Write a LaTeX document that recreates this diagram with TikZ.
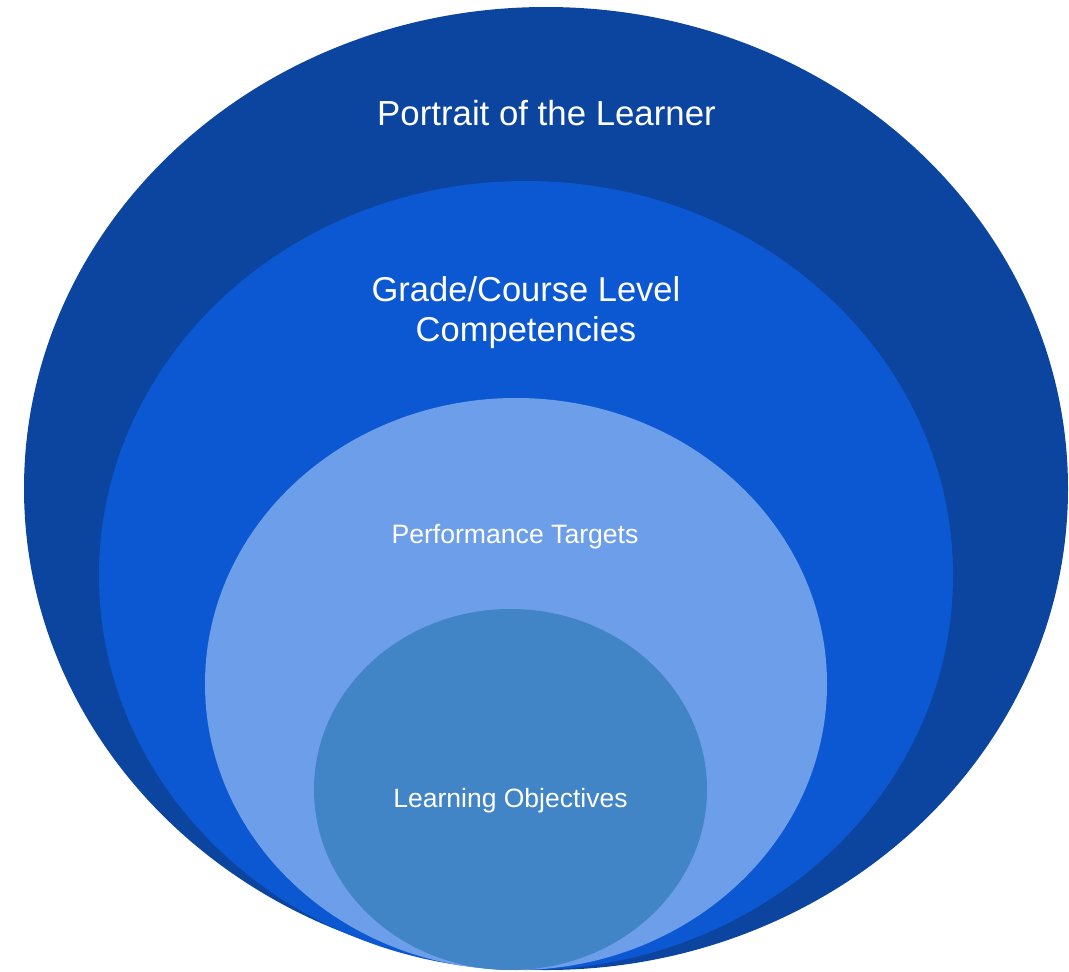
\documentclass[tikz,border=0pt]{standalone}
\usepackage{fontspec}
\setmainfont{Liberation Sans}
\definecolor{cOuter}{HTML}{0B45A0}
\definecolor{cSecond}{HTML}{0C58D2}
\definecolor{cThird}{HTML}{6D9EE9}
\definecolor{cInner}{HTML}{4285C6}
\begin{document}
\begin{tikzpicture}[x=1pt,y=-1pt,
  lbl/.style={text=white,anchor=base,inner sep=0pt,align=center}]
\useasboundingbox (0,0) rectangle (1069,972);
\fill[cOuter] (546,488.5) ellipse [x radius=522, y radius=481.5];
\fill[cSecond] (526,575.5) ellipse [x radius=427, y radius=394.5];
\fill[cThird] (516,684) ellipse [x radius=311, y radius=286];
\fill[cInner] (510.5,789.5) ellipse [x radius=196.5, y radius=180.5];
\node[lbl,font=\fontsize{34.8}{40}\selectfont] (portrait) at (546.5,125) {Portrait of the Learner};
\node[lbl,font=\fontsize{34.5}{40}\selectfont] (grade1) at (526,301) {Grade/Course Level};
\node[lbl,font=\fontsize{34.5}{40}\selectfont] (grade2) at (526,341) {Competencies};
\node[lbl,font=\fontsize{26.6}{30}\selectfont] (perf) at (515,543) {Performance Targets};
\node[lbl,font=\fontsize{26.5}{30}\selectfont] (learn) at (510.5,807) {Learning Objectives};
\end{tikzpicture}
\end{document}
